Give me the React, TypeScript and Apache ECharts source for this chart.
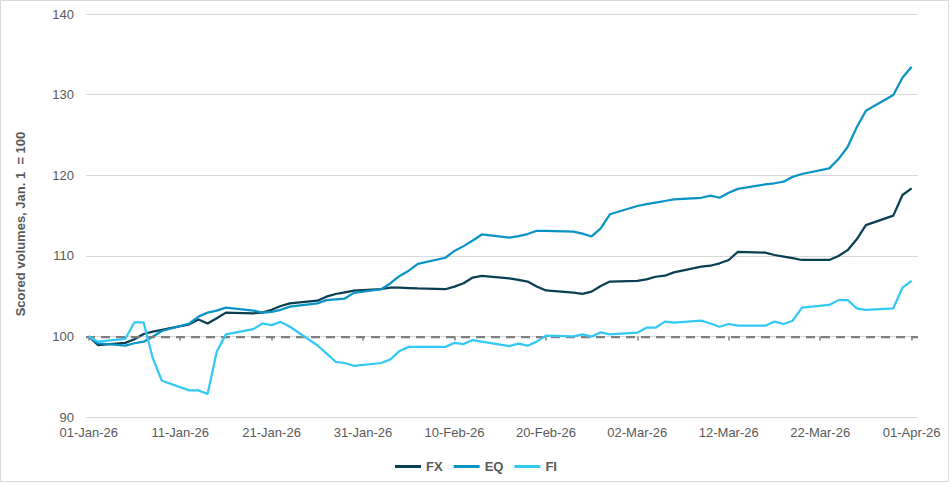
import React, { useEffect, useRef } from "react";
import * as echarts from "echarts";

const dates = [
  "2026-01-01", "2026-01-02", "2026-01-05", "2026-01-06", "2026-01-07", "2026-01-08", "2026-01-09",
  "2026-01-12", "2026-01-13", "2026-01-14", "2026-01-15", "2026-01-16",
  "2026-01-19", "2026-01-20", "2026-01-21", "2026-01-22", "2026-01-23",
  "2026-01-26", "2026-01-27", "2026-01-28", "2026-01-29", "2026-01-30",
  "2026-02-02", "2026-02-03", "2026-02-04", "2026-02-05", "2026-02-06",
  "2026-02-09", "2026-02-10", "2026-02-11", "2026-02-12", "2026-02-13",
  "2026-02-16", "2026-02-17", "2026-02-18", "2026-02-19", "2026-02-20",
  "2026-02-23", "2026-02-24", "2026-02-25", "2026-02-26", "2026-02-27",
  "2026-03-02", "2026-03-03", "2026-03-04", "2026-03-05", "2026-03-06",
  "2026-03-09", "2026-03-10", "2026-03-11", "2026-03-12", "2026-03-13",
  "2026-03-16", "2026-03-17", "2026-03-18", "2026-03-19", "2026-03-20",
  "2026-03-23", "2026-03-24", "2026-03-25", "2026-03-26", "2026-03-27",
  "2026-03-30", "2026-03-31", "2026-04-01",
];

const fx = [
  100, 98.93, 99.2, 99.65, 100.3, 100.6, 100.8,
  101.5, 102.1, 101.6, 102.25, 102.95,
  102.87, 102.95, 103.3, 103.77, 104.1,
  104.43, 104.93, 105.26, 105.47, 105.67,
  105.88, 106.05, 106.05, 106.0, 105.95,
  105.85, 106.17, 106.6, 107.3, 107.5,
  107.2, 107.0, 106.8, 106.2, 105.7,
  105.42, 105.28, 105.55, 106.25, 106.8,
  106.9, 107.08, 107.4, 107.53, 107.95,
  108.65, 108.77, 109.07, 109.48, 110.5,
  110.4, 110.1, 109.9, 109.7, 109.48,
  109.48, 109.97, 110.7, 112.05, 113.8,
  114.98, 117.54, 118.37,
];

const eq = [
  100, 99.15, 98.85, 99.15, 99.35, 99.95, 100.67,
  101.6, 102.45, 102.95, 103.2, 103.57,
  103.2, 102.95, 103.05, 103.3, 103.7,
  104.1, 104.5, 104.6, 104.7, 105.4,
  105.85, 106.6, 107.5, 108.15, 109.0,
  109.76, 110.6, 111.2, 111.9, 112.65,
  112.25, 112.45, 112.7, 113.1, 113.1,
  113.0, 112.75, 112.4, 113.4, 115.15,
  116.18, 116.4, 116.6, 116.8, 117.0,
  117.2, 117.46, 117.2, 117.83, 118.3,
  118.87, 119.0, 119.2, 119.8, 120.15,
  120.85, 122.0, 123.5, 125.94, 128.0,
  129.95, 132.1, 133.46,
];

const fi = [
  100, 99.35, 99.7, 101.75, 101.75, 97.3, 94.5,
  93.3, 93.3, 92.85, 98.1, 100.25,
  100.9, 101.6, 101.4, 101.8, 101.2,
  98.9, 97.9, 96.85, 96.7, 96.35,
  96.7, 97.15, 98.2, 98.7, 98.7,
  98.7, 99.2, 99.05, 99.55, 99.35,
  98.8, 99.1, 98.85, 99.35, 100.1,
  100.0, 100.25, 99.97, 100.5, 100.25,
  100.46, 101.08, 101.08, 101.83, 101.7,
  101.95, 101.6, 101.2, 101.54, 101.33,
  101.33, 101.83, 101.54, 101.95, 103.56,
  103.9, 104.5, 104.5, 103.49, 103.28,
  103.49, 106.04, 106.9,
];

const baseline = 100;
const tickDays = [0, 10, 20, 30, 40, 50, 60, 70, 80, 90];
const tickLabels = [
  "01-Jan-26", "11-Jan-26", "21-Jan-26", "31-Jan-26", "10-Feb-26",
  "20-Feb-26", "02-Mar-26", "12-Mar-26", "22-Mar-26", "01-Apr-26",
];

const seriesNames = ["FX", "EQ", "FI"];
const seriesColors = ["#0a3f52", "#0a94c6", "#33c9f5"];

const FONT = "'Liberation Sans', Arial, sans-serif";
const TEXT = "#595959";

function dayIndex(d: string): number {
  const [y, m, dd] = d.split("-").map(Number);
  return Math.round((Date.UTC(y, m - 1, dd) - Date.UTC(2026, 0, 1)) / 86400000);
}

export default function App() {
  const ref = useRef<HTMLDivElement>(null);

  useEffect(() => {
    document.body.style.margin = "0";
    if (!ref.current) return;
    const chart = echarts.init(ref.current, undefined, { renderer: "svg" });
    const xs = dates.map(dayIndex);
    const values = [fx, eq, fi];

    const W = 952;
    const gridLeft = 86;
    const gridRight = 34;
    const gridTop = 14;
    const gridBottom = 67;
    const yMin = 90;
    const yMax = 140;
    const plotH = 484 - gridTop - gridBottom;
    const refY = gridTop + plotH * (yMax - baseline) / (yMax - yMin);

    const xMin = -0.3;
    const xMax = 90.7;
    const plotW = W - gridLeft - gridRight;
    const pxPerDay = plotW / (xMax - xMin);
    const tickLeft = gridLeft + (tickDays[0] - xMin) * pxPerDay;
    const tickRight = W - (gridLeft + (tickDays[tickDays.length - 1] - xMin) * pxPerDay);

    chart.setOption({
      animation: false,
      backgroundColor: "#ffffff",
      grid: [
        { left: gridLeft, right: gridRight, top: gridTop, bottom: gridBottom },
        { left: tickLeft, right: tickRight, top: gridTop, height: refY - gridTop },
      ],
      xAxis: [
        {
          type: "value",
          gridIndex: 0,
          min: xMin,
          max: xMax,
          axisLine: { show: false },
          axisTick: { show: false },
          splitLine: { show: false },
          axisLabel: {
            customValues: tickDays,
            formatter: (v: number) => {
              const i = tickDays.indexOf(Math.round(v));
              return i >= 0 ? tickLabels[i] : "";
            },
            color: TEXT,
            fontSize: 13,
            fontFamily: FONT,
            margin: 9,
            showMinLabel: true,
            showMaxLabel: true,
          },
        },
        {
          type: "value",
          gridIndex: 1,
          min: tickDays[0],
          max: tickDays[tickDays.length - 1],
          interval: 10,
          axisLine: { show: false },
          axisTick: {
            show: true,
            length: 4,
            lineStyle: { color: "#7f7f7f", width: 1.5 },
          },
          axisLabel: { show: false },
          splitLine: { show: false },
        },
      ],
      yAxis: [
        {
          type: "value",
          gridIndex: 0,
          min: yMin,
          max: yMax,
          interval: 10,
          axisLine: { show: false },
          axisTick: { show: false },
          splitLine: { lineStyle: { color: "#d9d9d9", width: 1 } },
          axisLabel: { color: TEXT, fontSize: 13, fontFamily: FONT, margin: 12 },
        },
        {
          type: "value",
          gridIndex: 1,
          min: 0,
          max: 1,
          show: false,
        },
      ],
      legend: {
        data: seriesNames,
        left: "center",
        top: 455,
        icon: "rect",
        itemWidth: 26,
        itemHeight: 3,
        itemGap: 11,
        textStyle: { color: TEXT, fontSize: 13, fontWeight: "bold", fontFamily: FONT },
      },
      graphic: [
        {
          type: "rect",
          shape: { x: 0.5, y: 0.5, width: 948, height: 481 },
          style: { fill: "none", stroke: "#d9d9d9", lineWidth: 1 },
          silent: true,
        },
        {
          type: "text",
          x: 20,
          y: 224,
          rotation: Math.PI / 2,
          style: {
            text: "Scored volumes, Jan. 1  = 100",
            align: "center",
            verticalAlign: "middle",
            fill: TEXT,
            font: `bold 13px ${FONT}`,
          },
        },
      ],
      series: [
        {
          name: "baseline",
          type: "line",
          xAxisIndex: 0,
          yAxisIndex: 0,
          data: [],
          z: 1,
          markLine: {
            silent: true,
            symbol: "none",
            label: { show: false },
            lineStyle: { color: "#7f7f7f", width: 2.25, type: [9, 6] },
            data: [{ yAxis: baseline }],
          },
        },
        ...seriesNames.map((name, si) => ({
          name,
          type: "line",
          xAxisIndex: 0,
          yAxisIndex: 0,
          data: xs.map((x, i) => [x, values[si][i]]),
          symbol: "none",
          showSymbol: false,
          color: seriesColors[si],
          lineStyle: { color: seriesColors[si], width: 2.25 },
          itemStyle: { color: seriesColors[si] },
          z: 3 + si,
        })),
      ],
    });

    return () => chart.dispose();
  }, []);

  return <div ref={ref} style={{ width: 952, height: 484 }} />;
}
